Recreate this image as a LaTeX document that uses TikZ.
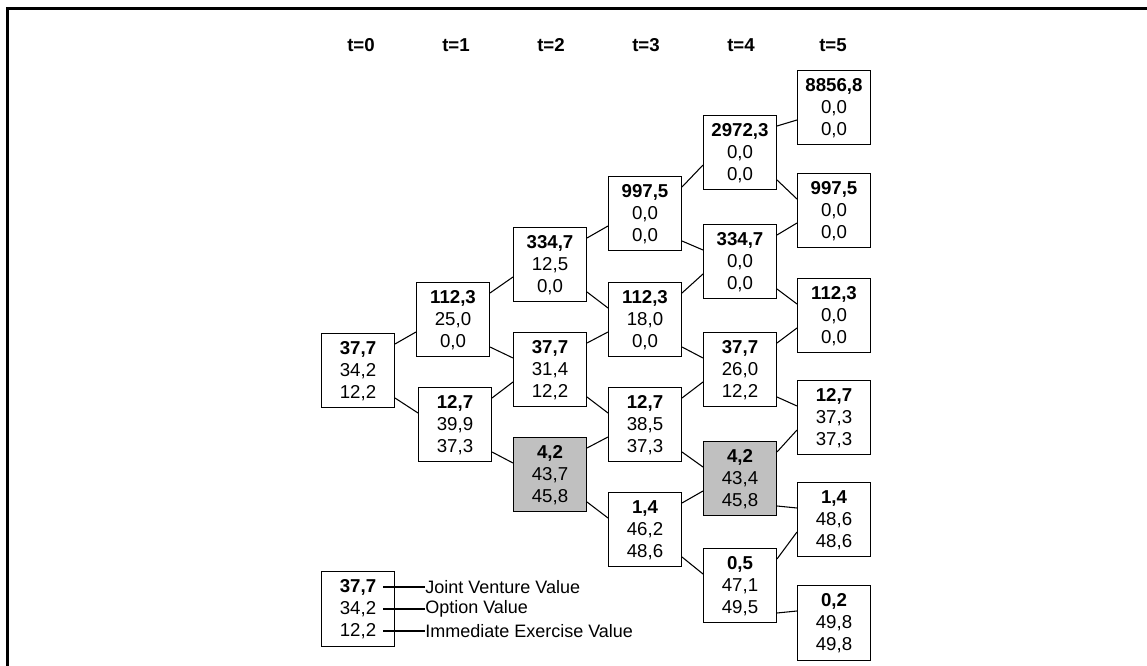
\documentclass[tikz,border=0pt]{standalone}
\usepackage{fontspec}
\setmainfont{Liberation Sans}
\usetikzlibrary{calc,positioning}
\definecolor{exgray}{RGB}{192,192,192}

\begin{document}
\begin{tikzpicture}[x=0.75pt, y=-0.75pt,
    valbox/.style={draw, line width=0.75pt, fill=white, align=center,
      inner sep=0pt, minimum width=54.75pt, minimum height=55.5pt,
      font=\fontsize{14pt}{16.5pt}\selectfont},
    exbox/.style={valbox, fill=exgray},
    tlabel/.style={font=\fontsize{14pt}{16.5pt}\selectfont\bfseries},
    leglabel/.style={anchor=west, inner sep=0pt,
      font=\fontsize{13.5pt}{16.5pt}\selectfont},
    branch/.style={line width=0.8pt}]
    \useasboundingbox (0,0) rectangle (1147,666);

    % frame
    \draw[line width=2.25pt] (7.5,666) -- (7.5,9) -- (1147,9);

    % time labels
    \foreach \t/\x in {0/361,1/456,2/551,3/646,4/741,5/833}
      \node[tlabel] (t\t) at (\x,45) {t=\t};

    % t=0
    \node[valbox] (n00) at (358,371) {\textbf{37,7}\\34,2\\12,2};
    % t=1
    \node[valbox] (n10) at (453,320) {\textbf{112,3}\\25,0\\0,0};
    \node[valbox] (n11) at (455,425) {\textbf{12,7}\\39,9\\37,3};
    % t=2
    \node[valbox] (n20) at (550,265) {\textbf{334,7}\\12,5\\0,0};
    \node[valbox] (n21) at (550,370) {\textbf{37,7}\\31,4\\12,2};
    \node[exbox]  (n22) at (550,475) {\textbf{4,2}\\43,7\\45,8};
    % t=3
    \node[valbox] (n30) at (645,214) {\textbf{997,5}\\0,0\\0,0};
    \node[valbox] (n31) at (645,320) {\textbf{112,3}\\18,0\\0,0};
    \node[valbox] (n32) at (645,425) {\textbf{12,7}\\38,5\\37,3};
    \node[valbox] (n33) at (645,530) {\textbf{1,4}\\46,2\\48,6};
    % t=4
    \node[valbox] (n40) at (740,153) {\textbf{2972,3}\\0,0\\0,0};
    \node[valbox] (n41) at (740,262) {\textbf{334,7}\\0,0\\0,0};
    \node[valbox] (n42) at (740,370) {\textbf{37,7}\\26,0\\12,2};
    \node[exbox]  (n43) at (740,479) {\textbf{4,2}\\43,4\\45,8};
    \node[valbox] (n44) at (740,586) {\textbf{0,5}\\47,1\\49,5};
    % t=5
    \node[valbox] (n50) at (834,108) {\textbf{8856,8}\\0,0\\0,0};
    \node[valbox] (n51) at (834,211) {\textbf{997,5}\\0,0\\0,0};
    \node[valbox] (n52) at (834,316) {\textbf{112,3}\\0,0\\0,0};
    \node[valbox] (n53) at (834,418) {\textbf{12,7}\\37,3\\37,3};
    \node[valbox] (n54) at (834,520) {\textbf{1,4}\\48,6\\48,6};
    \node[valbox] (n55) at (834,623) {\textbf{0,2}\\49,8\\49,8};

    % branches (up and down)
    \foreach \i/\k in {0/1,1/2,2/3,3/4,4/5}
      \foreach \j in {0,...,\i} {
        \pgfmathtruncatemacro{\jj}{\j+1}
        \draw[branch] ($(n\i\j.east)+(0,-27)$) -- ($(n\k\j.west)+(0,12)$);
        \draw[branch] ($(n\i\j.east)+(0,27)$) -- ($(n\k\jj.west)+(0,-12)$);
      }

    % legend
    \node[valbox] (leg) at (358,609) {\textbf{37,7}\\34,2\\12,2};
    \node[leglabel] (lj) at (425,587) {Joint Venture Value};
    \node[leglabel] (lo) at (425,609) {Option Value};
    \node[leglabel] (li) at (425,631) {Immediate Exercise Value};
    \foreach \l in {lj,lo,li}
      \draw[branch] ($(leg.east |- \l.west)+(-12,0)$) -- (\l.west);
\end{tikzpicture}
\end{document}
